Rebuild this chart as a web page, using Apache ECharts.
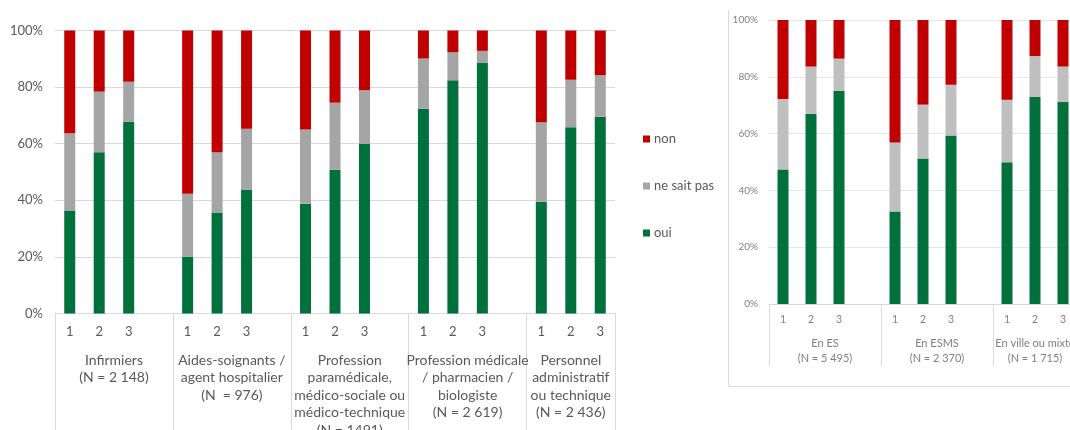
<!DOCTYPE html>
<html>
<head>
<meta charset="utf-8">
<script src="https://cdn.jsdelivr.net/npm/echarts@6/dist/echarts.min.js"></script>
<style>
  html, body { margin: 0; background: #fff; }
  #chart { width: 1070px; height: 430px; }
</style>
</head>
<body>
<div id="chart"></div>
<script>
// legende + libelles des barres
const legendNames = ['non', 'ne sait pas', 'oui']
const barLabels = ['1', '2', '3']

// panneau de gauche : par profession
const profGroups = [
  'Infirmiers\n(N = 2 148)',
  'Aides-soignants /\nagent hospitalier\n(N  = 976)',
  'Profession\nparamédicale,\nmédico-sociale ou\nmédico-technique\n(N = 1491)',
  'Profession médicale\n/ pharmacien /\nbiologiste\n(N = 2 619)',
  'Personnel\nadministratif\nou technique\n(N = 2 436)'
]
const profOui = [36.4, 57.0, 67.7, 20.1, 35.7, 43.7, 38.8, 50.8, 59.9, 72.3, 82.4, 88.5, 39.5, 65.8, 69.5]
const profNsp = [27.3, 21.4, 14.2, 22.2, 21.3, 21.6, 26.2, 23.7, 19.0, 17.8, 9.9, 4.3, 28.1, 16.8, 14.7]
const profNon = [36.3, 21.6, 18.1, 57.7, 43.0, 34.7, 35.0, 25.5, 21.1, 9.9, 7.7, 7.2, 32.4, 17.4, 15.8]

// panneau de droite : par lieu d'exercice
const lieuGroups = ['En ES\n(N = 5 495)', 'En ESMS\n(N = 2 370)', 'En ville ou mixte\n(N = 1 715)']
const lieuOui = [47.4, 67.0, 75.0, 32.6, 51.2, 59.3, 49.9, 72.9, 71.1]
const lieuNsp = [24.8, 16.6, 11.4, 24.3, 19.0, 17.9, 22.0, 14.4, 12.5]
const lieuNon = [27.8, 16.4, 13.6, 43.1, 29.8, 22.8, 28.1, 12.7, 16.4]

const colors = { non: '#C00000', nsp: '#A5A5A5', nspLight: '#BFBFBF', oui: '#00703C' }
const gridColor = '#D9D9D9'

// un creneau vide entre chaque groupe de 3 barres
function withGaps(values) {
  const out = []
  values.forEach((v, i) => {
    out.push(v)
    if (i % 3 === 2 && i < values.length - 1) out.push('-')
  })
  return out
}
function slots(nGroups) {
  const out = []
  for (let g = 0; g < nGroups; g++) {
    barLabels.forEach(l => out.push(l))
    if (g < nGroups - 1) out.push('')
  }
  return out
}

const profCats = slots(profGroups.length)
const lieuCats = slots(lieuGroups.length)

// le dernier groupe n'a que 3 creneaux : pas de decalage
function groupLabel(groups) {
  return (value, index) => {
    const g = Math.floor(index / 4)
    const style = g < groups.length - 1 ? 'a' : 'b'
    return groups[g].split('\n').map(s => '{' + style + '|' + s + '}').join('\n')
  }
}
function numberAxis(gridIndex, data, fontSize, color, margin) {
  return {
    type: 'category',
    gridIndex: gridIndex,
    position: 'bottom',
    data: data,
    axisLine: { lineStyle: { color: gridColor } },
    axisTick: { show: false },
    axisLabel: { interval: 0, color: color, fontSize: fontSize, fontFamily: 'Lato', margin: margin }
  }
}
function groupAxis(gridIndex, data, groups, opts) {
  return {
    type: 'category',
    gridIndex: gridIndex,
    position: 'bottom',
    data: data,
    axisLine: { show: false },
    axisTick: {
      show: true,
      interval: (index) => index % 4 === 0,
      length: opts.tickLength,
      lineStyle: { color: gridColor }
    },
    axisLabel: {
      interval: (index) => index % 4 === 1,
      margin: opts.margin,
      formatter: groupLabel(groups),
      rich: {
        a: { padding: [0, 0, 0, opts.half * 2], color: opts.color, fontSize: opts.fontSize, fontFamily: 'Lato', lineHeight: opts.lineHeight },
        b: { padding: [0, 0, 0, 0], color: opts.color, fontSize: opts.fontSize, fontFamily: 'Lato', lineHeight: opts.lineHeight }
      }
    }
  }
}

const chart = echarts.init(document.getElementById('chart'))

chart.setOption({
  animation: false,
  textStyle: { fontFamily: 'Lato' },
  legend: {
    data: legendNames,
    orient: 'vertical',
    left: 638,
    top: 127,
    itemWidth: 7,
    itemHeight: 7,
    itemGap: 33,
    icon: 'rect',
    textStyle: { color: '#595959', fontSize: 13, fontFamily: 'Lato', lineHeight: 14, padding: [0, 0, 0, -1] }
  },
  graphic: [{
    type: 'polyline',
    shape: { points: [[728.5, 10], [728.5, 386.5], [1080, 386.5]] },
    style: { stroke: gridColor, fill: null, lineWidth: 1 },
    silent: true
  }],
  grid: [
    { left: 55, top: 30.5, width: 560, height: 283, outerBoundsMode: 'none' },
    { left: 769, top: 20, width: 308, height: 284, outerBoundsMode: 'none' }
  ],
  xAxis: [
    numberAxis(0, profCats, 13, '#595959', 12),
    groupAxis(0, profCats, profGroups, { half: 560 / 19 / 2, tickLength: 120, margin: 38, fontSize: 14, lineHeight: 17.5, color: '#595959' }),
    numberAxis(1, lieuCats, 10.5, '#7F7F7F', 10),
    groupAxis(1, lieuCats, lieuGroups, { half: 308 / 11 / 2, tickLength: 62, margin: 32, fontSize: 11, lineHeight: 15, color: '#7F7F7F' })
  ],
  yAxis: [
    {
      type: 'value', gridIndex: 0, min: 0, max: 100, interval: 20,
      axisLine: { show: false }, axisTick: { show: false },
      splitLine: { lineStyle: { color: gridColor } },
      axisLabel: { formatter: '{value}%', color: '#595959', fontSize: 13, fontFamily: 'Lato', margin: 12 }
    },
    {
      type: 'value', gridIndex: 1, min: 0, max: 100, interval: 20,
      axisLine: { show: false }, axisTick: { show: false },
      splitLine: { lineStyle: { color: '#E6E6E6' } },
      axisLabel: { formatter: '{value}%', color: '#7F7F7F', fontSize: 10, fontFamily: 'Lato', margin: 11 }
    }
  ],
  series: [
    { name: 'oui', type: 'bar', stack: 'prof', xAxisIndex: 0, yAxisIndex: 0, barWidth: 11, itemStyle: { color: colors.oui }, data: withGaps(profOui) },
    { name: 'ne sait pas', type: 'bar', stack: 'prof', xAxisIndex: 0, yAxisIndex: 0, barWidth: 11, itemStyle: { color: colors.nsp }, data: withGaps(profNsp) },
    { name: 'non', type: 'bar', stack: 'prof', xAxisIndex: 0, yAxisIndex: 0, barWidth: 11, itemStyle: { color: colors.non }, data: withGaps(profNon) },
    { name: 'oui', type: 'bar', stack: 'lieu', xAxisIndex: 2, yAxisIndex: 1, barWidth: 11, itemStyle: { color: colors.oui }, data: withGaps(lieuOui) },
    { name: 'ne sait pas', type: 'bar', stack: 'lieu', xAxisIndex: 2, yAxisIndex: 1, barWidth: 11, itemStyle: { color: colors.nspLight }, data: withGaps(lieuNsp) },
    { name: 'non', type: 'bar', stack: 'lieu', xAxisIndex: 2, yAxisIndex: 1, barWidth: 11, itemStyle: { color: colors.non }, data: withGaps(lieuNon) }
  ]
})
</script>
</body>
</html>
